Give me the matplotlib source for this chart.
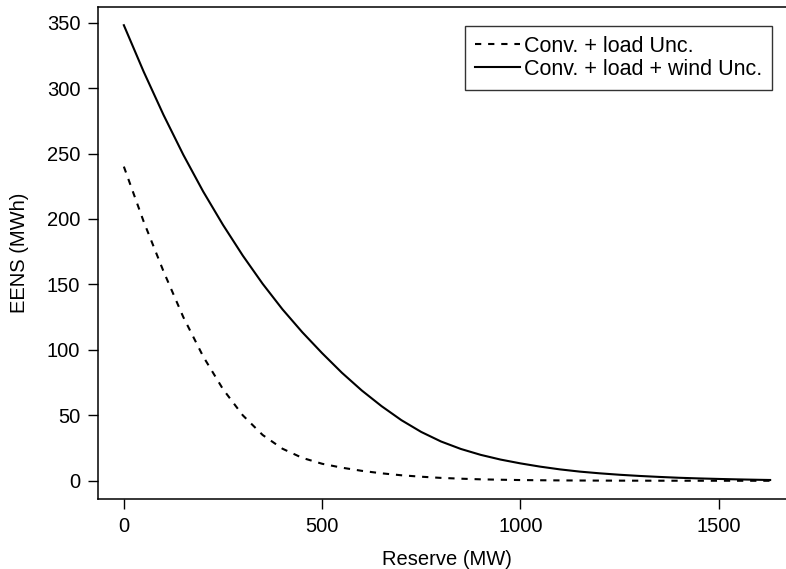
import numpy as np
import matplotlib
matplotlib.use("Agg")
import matplotlib.pyplot as plt

plt.rcParams['font.family'] = ['Liberation Sans', 'DejaVu Sans']

# reserve levels (MW)
reserve = [0, 50, 100, 150, 200, 250, 300, 350, 400, 450, 500, 550, 600, 650,
           700, 750, 800, 850, 900, 950, 1000, 1050, 1100, 1150, 1200, 1250,
           1300, 1350, 1400, 1450, 1500, 1550, 1600, 1630]

# EENS (MWh), conventional + load uncertainty
eens_load = [240, 198, 160, 125, 95, 70, 50, 35, 24.5, 17.5, 13, 10, 7.6, 5.7,
             4.2, 3.1, 2.2, 1.6, 1.1, 0.8, 0.55, 0.4, 0.28, 0.2, 0.14, 0.1,
             0.07, 0.05, 0.04, 0.03, 0.02, 0.01, 0.01, 0.0]

# EENS (MWh), conventional + load + wind uncertainty
eens_wind = [348, 312.5, 279.5, 249, 221, 195.5, 172, 150.5, 131, 113.5, 97.5,
             82.5, 69, 57, 46.3, 37.3, 30, 24.3, 19.8, 16.2, 13.3, 10.8, 8.7,
             7.0, 5.7, 4.6, 3.7, 2.95, 2.3, 1.8, 1.4, 1.05, 0.75, 0.6]

fig = plt.figure(figsize=(7.86, 5.69), dpi=100)
ax = fig.add_axes([98 / 786, 1 - 499 / 569, 698 / 786, 492 / 569])

ax.plot(reserve, eens_load, color='black', lw=1.5, ls=(0, (3, 3.3)),
        label='Conv. + load Unc.')
ax.plot(reserve, eens_wind, color='black', lw=1.5, ls='-',
        label='Conv. + load + wind Unc.')

ax.set_xlim(-65.2, 1695.2)
ax.set_ylim(-13.92, 361.92)
ax.set_xticks([0, 500, 1000, 1500])
ax.set_yticks([0, 50, 100, 150, 200, 250, 300, 350])
ax.tick_params(direction='out', length=7.2, width=1, labelsize=14.5, pad=5.5)
for s in ax.spines.values():
    s.set_linewidth(1.1)
ax.spines['right'].set_visible(False)  # falls outside the figure anyway

ax.set_xlabel('Reserve (MW)', fontsize=14.5, labelpad=10)
ax.set_ylabel('EENS (MWh)', fontsize=14.5, labelpad=13)

leg = ax.legend(loc='upper right', bbox_to_anchor=(772 / 786, 1 - 26 / 569),
                bbox_transform=fig.transFigure, fontsize=15.5, frameon=True,
                fancybox=False, handlelength=2.1, handletextpad=0.2,
                labelspacing=0.1, borderpad=0.45, borderaxespad=0)
leg.get_frame().set_edgecolor('black')
leg.get_frame().set_linewidth(1.0)

fig.savefig('out.png', dpi=100)
